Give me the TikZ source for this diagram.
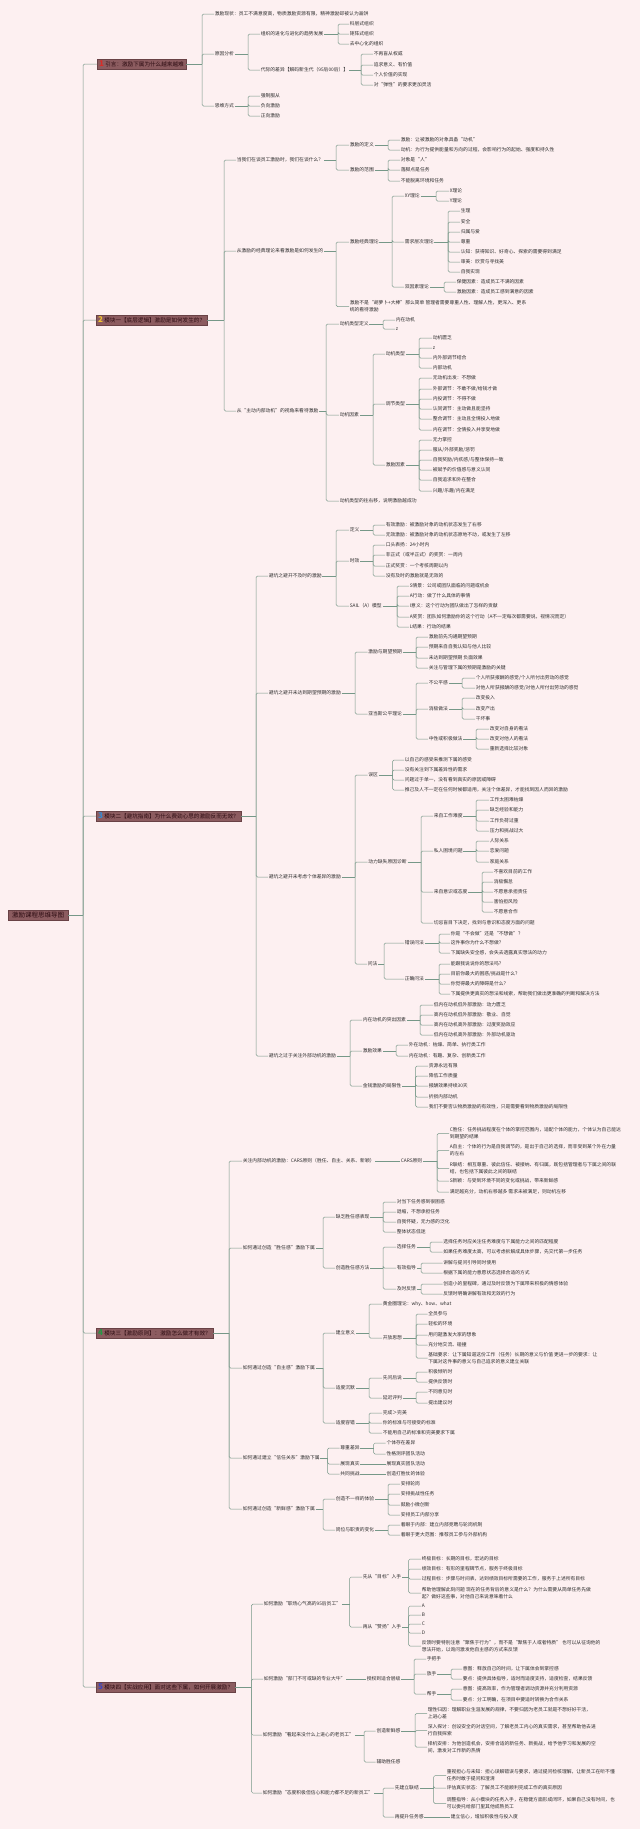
\documentclass[tikz,border=0pt]{standalone}
\usepackage{fontspec}
\setmainfont{Noto Sans CJK SC}
\usepackage{tikz}
\definecolor{bgc}{RGB}{253,240,241}
\definecolor{linec}{RGB}{118,152,136}
\definecolor{boxc}{RGB}{140,92,96}
\definecolor{boxd}{RGB}{105,66,70}
\definecolor{boxt}{RGB}{45,12,18}
\definecolor{textc}{RGB}{45,45,45}
\definecolor{numa}{RGB}{215,45,40}
\definecolor{numb}{RGB}{240,195,50}
\definecolor{numc}{RGB}{50,140,215}
\definecolor{numd}{RGB}{40,150,70}
\definecolor{nume}{RGB}{60,70,190}

\begin{document}
\begin{tikzpicture}[x = 1pt, y = -1pt,
  box/.style = {anchor = west, fill = boxc, draw = boxd, line width = .4pt, inner xsep = 2pt, inner ysep = 1.8pt, text = boxt, font = \fontsize{5.6}{6.5}\selectfont},
  leaf/.style = {anchor = west, inner sep = .6pt, text = textc, align = left, font = \fontsize{4.8}{6.8}\selectfont},
  link/.style = {draw = linec, line width = .5pt, rounded corners = 1.5pt}]
  \fill[bgc] (0, 0) rectangle (640, 1829);
  \useasboundingbox (0, 0) rectangle (640, 1829);

  % root
  \node[box, inner xsep = 4pt, inner ysep = 2.2pt, font = \fontsize{6.5}{7.5}\selectfont] at (8, 915) (0) {激励课程思维导图};
  \coordinate (0b) at (83, 915);
  \node[box] at (97, 64) (1) {{\color{numa}\fontsize{8}{8}\selectfont\bfseries 1} 引言：激励下属为什么越来越难};
  \node[box] at (96, 320) (2) {{\color{numb}\fontsize{8}{8}\selectfont\bfseries 2} 模块一【底层逻辑】激励是如何发生的？};
  \node[box] at (96, 816) (3) {{\color{numc}\fontsize{8}{8}\selectfont\bfseries 3} 模块二【避坑指南】为什么费劲心思的激励反而无效？};
  \node[box] at (96, 1333) (4) {{\color{numd}\fontsize{8}{8}\selectfont\bfseries 4} 模块三【激励原则】：激励怎么做才有效？};
  \node[box] at (96, 1687) (5) {{\color{nume}\fontsize{8}{8}\selectfont\bfseries 5} 模块四【实战应用】面对这些下属，如何开展激励？};
  \draw[link] (0.east) -- (0b);
  \foreach \c in {1, ..., 5}
  {
  \draw[link] (0b) |- (\c.west);
  }

  % 1
  \node[leaf] at (214, 14) (11) {激励现状：员工不满意度高，物质激励资源有限，精神激励却被认为画饼};
  \node[leaf] at (214, 54) (12) {原因分析};
  \node[leaf] at (260, 34) (121) {组织的进化与进化的趋势发展};
  \node[leaf] at (349, 24) (1211) {科层式组织};
  \node[leaf] at (349, 34) (1212) {矩阵式组织};
  \node[leaf] at (349, 44) (1213) {去中心化的组织};
  \node[leaf] at (260, 70) (122) {代际的差异【解码新生代（95后00后）】};
  \node[leaf] at (373, 54) (1221) {不再盲从权威};
  \node[leaf] at (373, 65) (1222) {追求意义、有价值};
  \node[leaf] at (373, 75) (1223) {个人价值的实现};
  \node[leaf] at (373, 85) (1224) {对“弹性”的要求更加灵活};
  \node[leaf] at (214, 106) (13) {思维方式};
  \node[leaf] at (260, 96) (131) {强制服从};
  \node[leaf] at (260, 106) (132) {负向激励};
  \node[leaf] at (260, 116) (133) {正向激励};
  \coordinate (1b) at (202, 64);
  \coordinate (12b) at (248, 54);
  \coordinate (121b) at (338, 34);
  \coordinate (122b) at (361, 70);
  \coordinate (13b) at (248, 106);
  \draw[link] (1.east) -- (1b);
  \foreach \c in {11, 12, 13} \draw[link] (1b) |- (\c.west);
  \draw[link] (12.east) -- (12b);
  \foreach \c in {121, 122} \draw[link] (12b) |- (\c.west);
  \draw[link] (121.east) -- (121b);
  \foreach \c in {1211, 1212, 1213} \draw[link] (121b) |- (\c.west);
  \draw[link] (122.east) -- (122b);
  \foreach \c in {1221, 1222, 1223, 1224} \draw[link] (122b) |- (\c.west);
  \draw[link] (13.east) -- (13b);
  \foreach \c in {131, 132, 133} \draw[link] (13b) |- (\c.west);

  % 2
  \node[leaf] at (236, 160) (21) {当我们在谈员工激励时，我们在谈什么？};
  \node[leaf] at (349, 145) (211) {激励的定义};
  \node[leaf] at (400, 140) (2111) {激励：让被激励的对象具备“动机”};
  \node[leaf] at (400, 150) (2112) {动机：为行为提供能量和方向的过程，会影响行为的起始、强度和持久性};
  \node[leaf] at (349, 170) (212) {激励的范围};
  \node[leaf] at (400, 160) (2121) {对象是“人”};
  \node[leaf] at (400, 170) (2122) {落脚点是任务};
  \node[leaf] at (400, 181) (2123) {不能脱离环境和任务};
  \node[leaf] at (236, 251) (22) {从激励的经典理论来看激励是如何发生的};
  \node[leaf] at (349, 242) (221) {激励经典理论};
  \node[leaf] at (404, 196) (2211) {XY理论};
  \node[leaf] at (449, 191) (22111) {X理论};
  \node[leaf] at (449, 201) (22112) {Y理论};
  \node[leaf] at (404, 242) (2212) {需求层次理论};
  \node[leaf] at (460, 211) (22121) {生理};
  \node[leaf] at (460, 222) (22122) {安全};
  \node[leaf] at (460, 232) (22123) {归属与爱};
  \node[leaf] at (460, 242) (22124) {尊重};
  \node[leaf] at (460, 252) (22125) {认知：获得知识、好奇心、探索的需要得到满足};
  \node[leaf] at (460, 262) (22126) {审美：欣赏与寻找美};
  \node[leaf] at (460, 272) (22127) {自我实现};
  \node[leaf] at (404, 287) (2213) {双因素理论};
  \node[leaf] at (456, 282) (22131) {保健因素：造成员工不满的因素};
  \node[leaf] at (456, 292) (22132) {激励因素：造成员工感到满意的因素};
  \node[leaf] at (349, 306.5) (222) {激励不是“胡萝卜+大棒”那么简单 管理者需要尊重人性、理解人性，更深入、更系\\统的看待激励};
  \node[leaf] at (236, 411) (23) {从“主动内部动机”的视角来看待激励};
  \node[leaf] at (339, 324) (231) {动机类型定义};
  \node[leaf] at (395, 320) (2311) {内在动机};
  \node[leaf] at (395, 329) (2312) {z};
  \node[leaf] at (339, 415) (232) {动机因素};
  \node[leaf] at (385, 354) (2321) {动机类型};
  \node[leaf] at (432, 338) (23211) {动机匮乏};
  \node[leaf] at (432, 348) (23212) {z};
  \node[leaf] at (432, 358) (23213) {内外部调节结合};
  \node[leaf] at (432, 368) (23214) {内部动机};
  \node[leaf] at (385, 404) (2322) {调节类型};
  \node[leaf] at (432, 378) (23221) {无动机出发：不想做};
  \node[leaf] at (432, 389) (23222) {外部调节：不敢不做/给钱才做};
  \node[leaf] at (432, 399) (23223) {内投调节：不得不做};
  \node[leaf] at (432, 409) (23224) {认同调节：主动做且能坚持};
  \node[leaf] at (432, 419) (23225) {整合调节：主动且全情投入地做};
  \node[leaf] at (432, 430) (23226) {内在调节：全情投入并享受地做};
  \node[leaf] at (385, 465) (2323) {激励因素};
  \node[leaf] at (432, 440) (23231) {无力掌控};
  \node[leaf] at (432, 450) (23232) {服从/外部奖励/惩罚};
  \node[leaf] at (432, 460) (23233) {自我奖励/内疚感/与整体保持一致};
  \node[leaf] at (432, 470) (23234) {被赋予的价值感与意义认同};
  \node[leaf] at (432, 480) (23235) {自我追求和外在整合};
  \node[leaf] at (432, 491) (23236) {兴趣/乐趣/内在满足};
  \node[leaf] at (339, 501) (233) {动机类型的往右移，说明激励越成功};
  \coordinate (2b) at (224, 320);
  \coordinate (21b) at (336, 160);
  \coordinate (211b) at (388, 145);
  \coordinate (212b) at (388, 170);
  \coordinate (22b) at (336, 251);
  \coordinate (221b) at (392, 242);
  \coordinate (2211b) at (436, 196);
  \coordinate (2212b) at (448, 242);
  \coordinate (2213b) at (444, 287);
  \coordinate (23b) at (326, 411);
  \coordinate (231b) at (383, 324);
  \coordinate (232b) at (373, 415);
  \coordinate (2321b) at (419, 354);
  \coordinate (2322b) at (419, 404);
  \coordinate (2323b) at (419, 465);
  \draw[link] (2.east) -- (2b);
  \foreach \c in {21, 22, 23} \draw[link] (2b) |- (\c.west);
  \draw[link] (21.east) -- (21b);
  \foreach \c in {211, 212} \draw[link] (21b) |- (\c.west);
  \draw[link] (211.east) -- (211b);
  \foreach \c in {2111, 2112} \draw[link] (211b) |- (\c.west);
  \draw[link] (212.east) -- (212b);
  \foreach \c in {2121, 2122, 2123} \draw[link] (212b) |- (\c.west);
  \draw[link] (22.east) -- (22b);
  \foreach \c in {221, 222} \draw[link] (22b) |- (\c.west);
  \draw[link] (221.east) -- (221b);
  \foreach \c in {2211, 2212, 2213} \draw[link] (221b) |- (\c.west);
  \draw[link] (2211.east) -- (2211b);
  \foreach \c in {22111, 22112} \draw[link] (2211b) |- (\c.west);
  \draw[link] (2212.east) -- (2212b);
  \foreach \c in {22121, 22122, 22123, 22124, 22125, 22126, 22127} \draw[link] (2212b) |- (\c.west);
  \draw[link] (2213.east) -- (2213b);
  \foreach \c in {22131, 22132} \draw[link] (2213b) |- (\c.west);
  \draw[link] (23.east) -- (23b);
  \foreach \c in {231, 232, 233} \draw[link] (23b) |- (\c.west);
  \draw[link] (231.east) -- (231b);
  \foreach \c in {2311, 2312} \draw[link] (231b) |- (\c.west);
  \draw[link] (232.east) -- (232b);
  \foreach \c in {2321, 2322, 2323} \draw[link] (232b) |- (\c.west);
  \draw[link] (2321.east) -- (2321b);
  \foreach \c in {23211, 23212, 23213, 23214} \draw[link] (2321b) |- (\c.west);
  \draw[link] (2322.east) -- (2322b);
  \foreach \c in {23221, 23222, 23223, 23224, 23225, 23226} \draw[link] (2322b) |- (\c.west);
  \draw[link] (2323.east) -- (2323b);
  \foreach \c in {23231, 23232, 23233, 23234, 23235, 23236} \draw[link] (2323b) |- (\c.west);

  % 3
  \node[leaf] at (268, 576) (31) {避坑之避开不及时的激励};
  \node[leaf] at (349, 530) (311) {定义};
  \node[leaf] at (385, 525) (3111) {有效激励：被激励对象的动机状态发生了右移};
  \node[leaf] at (385, 535) (3112) {无效激励：被激励对象的动机状态原地不动，或发生了左移};
  \node[leaf] at (349, 561) (312) {时效};
  \node[leaf] at (385, 545) (3121) {口头表扬：24小时内};
  \node[leaf] at (385, 555) (3122) {非正式（或半正式）的奖赏：一周内};
  \node[leaf] at (385, 566) (3123) {正式奖赏：一个考核周期以内};
  \node[leaf] at (385, 576) (3124) {没有及时的激励就是无效的};
  \node[leaf] at (349, 606) (313) {SAIL（A）模型};
  \node[leaf] at (409, 586) (3131) {S情景：公司或团队面临的问题或机会};
  \node[leaf] at (409, 596) (3132) {A行动：做了什么具体的事情};
  \node[leaf] at (409, 606) (3133) {I意义：这个行动为团队做出了怎样的贡献};
  \node[leaf] at (409, 617) (3134) {A奖赏：团队如何激励你的这个行动（A不一定每次都需要说，视情况而定）};
  \node[leaf] at (409, 627) (3135) {L结果：行动的结果};
  \node[leaf] at (268, 693) (32) {避坑之避开未达到期望预期的激励};
  \node[leaf] at (367.5, 652) (321) {激励与期望预期};
  \node[leaf] at (428, 637) (3211) {激励前先沟通期望预期};
  \node[leaf] at (428, 647) (3212) {预期来自自我认知与他人比较};
  \node[leaf] at (428, 658) (3213) {未达到期望预期 负面效果};
  \node[leaf] at (428, 668) (3214) {关注与管理下属的预期是激励的关键};
  \node[leaf] at (367.5, 714) (322) {亚当斯公平理论};
  \node[leaf] at (428, 683) (3221) {不公平感};
  \node[leaf] at (475, 678) (32211) {个人所获报酬的感觉/个人所付出劳动的感觉};
  \node[leaf] at (475, 688) (32212) {对他人所获报酬的感觉/对他人所付出劳动的感觉};
  \node[leaf] at (428, 709) (3222) {消极做法};
  \node[leaf] at (475, 698) (32221) {改变投入};
  \node[leaf] at (475, 709) (32222) {改变产出};
  \node[leaf] at (475, 719) (32223) {干坏事};
  \node[leaf] at (428, 739) (3223) {中性或积极做法};
  \node[leaf] at (489, 729) (32231) {改变对自身的看法};
  \node[leaf] at (489, 739) (32232) {改变对他人的看法};
  \node[leaf] at (489, 749) (32233) {重新选择比较对象};
  \node[leaf] at (268, 877) (33) {避坑之避开未考虑个体差异的激励};
  \node[leaf] at (367.5, 775) (331) {误区};
  \node[leaf] at (404, 760) (3311) {以自己的感受来推测下属的感受};
  \node[leaf] at (404, 770) (3312) {没有关注到下属差异性的需求};
  \node[leaf] at (404, 780) (3313) {问题过于单一，没有看到真实的原因或障碍};
  \node[leaf] at (404, 790) (3314) {推己及人不一定在任何时候都适用，关注个体差异，才能找到因人而异的激励};
  \node[leaf] at (367.5, 862) (332) {动力缺失原因诊断};
  \node[leaf] at (433, 816) (3321) {来自工作难度};
  \node[leaf] at (489, 800) (33211) {工作太困难枯燥};
  \node[leaf] at (489, 810) (33212) {缺乏经验和能力};
  \node[leaf] at (489, 821) (33213) {工作负荷过重};
  \node[leaf] at (489, 831) (33214) {压力和挑战过大};
  \node[leaf] at (433, 851) (3322) {私人困境问题};
  \node[leaf] at (489, 841) (33221) {人际关系};
  \node[leaf] at (489, 851) (33222) {恋爱问题};
  \node[leaf] at (489, 862) (33223) {家庭关系};
  \node[leaf] at (433, 892) (3323) {来自意识或态度};
  \node[leaf] at (493, 872) (33231) {不喜欢目前的工作};
  \node[leaf] at (493, 882) (33232) {消极懈怠};
  \node[leaf] at (493, 892) (33233) {不愿意承担责任};
  \node[leaf] at (493, 902) (33234) {害怕担风险};
  \node[leaf] at (493, 912) (33235) {不愿意合作};
  \node[leaf] at (433, 923) (3324) {切忌盲目下决定，找到与意识和态度方面的问题};
  \node[leaf] at (367, 964) (333) {问法};
  \node[leaf] at (404, 943) (3331) {错误问法};
  \node[leaf] at (450, 934) (33311) {你是“不会做”还是“不想做”？};
  \node[leaf] at (450, 943) (33312) {这件事你为什么不想做？};
  \node[leaf] at (450, 953) (33313) {下属缺失安全感，会失去透露真实想法的动力};
  \node[leaf] at (404, 979) (3332) {正确问法};
  \node[leaf] at (450, 964) (33321) {能跟我说说你的想法吗？};
  \node[leaf] at (450, 974) (33322) {目前你最大的困惑/挑战是什么？};
  \node[leaf] at (450, 984) (33323) {你觉得最大的障碍是什么？};
  \node[leaf] at (450, 994) (33324) {下属提供更真实的想法和线索，帮助我们做出更准确的判断和解决方法};
  \node[leaf] at (268, 1056) (34) {避坑之过于关注外部动机的激励};
  \node[leaf] at (362, 1020) (341) {内在动机的突出因素};
  \node[leaf] at (433, 1005) (3411) {低内在动机低外部激励：动力匮乏};
  \node[leaf] at (433, 1015) (3412) {高内在动机低外部激励：敬业、自觉};
  \node[leaf] at (433, 1025) (3413) {高内在动机高外部激励：过度奖励效应};
  \node[leaf] at (433, 1035) (3414) {低内在动机高外部激励：外部动机驱动};
  \node[leaf] at (362, 1051) (342) {激励效果};
  \node[leaf] at (408, 1045) (3421) {外在动机：枯燥、简单、执行类工作};
  \node[leaf] at (408, 1056) (3422) {内在动机：有趣、复杂、创新类工作};
  \node[leaf] at (362, 1086) (343) {金钱激励的局限性};
  \node[leaf] at (428, 1066) (3431) {资源永远有限};
  \node[leaf] at (428, 1076) (3432) {降低工作质量};
  \node[leaf] at (428, 1086) (3433) {报酬效果持续30天};
  \node[leaf] at (428, 1097) (3434) {折损内部动机};
  \node[leaf] at (428, 1107) (3435) {我们不要否认物质激励的有效性，只是需要看到物质激励的局限性};
  \coordinate (3b) at (256, 816);
  \coordinate (31b) at (336, 576);
  \coordinate (311b) at (373, 530);
  \coordinate (312b) at (373, 561);
  \coordinate (313b) at (397, 606);
  \coordinate (32b) at (355, 693);
  \coordinate (321b) at (416, 652);
  \coordinate (322b) at (416, 714);
  \coordinate (3221b) at (462, 683);
  \coordinate (3222b) at (462, 709);
  \coordinate (3223b) at (476, 739);
  \coordinate (33b) at (355, 877);
  \coordinate (331b) at (392.5, 775);
  \coordinate (332b) at (421, 862);
  \coordinate (3321b) at (476, 816);
  \coordinate (3322b) at (476, 851);
  \coordinate (3323b) at (482, 892);
  \coordinate (333b) at (384, 964);
  \coordinate (3331b) at (439, 943);
  \coordinate (3332b) at (439, 979);
  \coordinate (34b) at (350, 1056);
  \coordinate (341b) at (420, 1020);
  \coordinate (342b) at (396, 1051);
  \coordinate (343b) at (415.5, 1086);
  \draw[link] (3.east) -- (3b);
  \foreach \c in {31, 32, 33, 34} \draw[link] (3b) |- (\c.west);
  \draw[link] (31.east) -- (31b);
  \foreach \c in {311, 312, 313} \draw[link] (31b) |- (\c.west);
  \draw[link] (311.east) -- (311b);
  \foreach \c in {3111, 3112} \draw[link] (311b) |- (\c.west);
  \draw[link] (312.east) -- (312b);
  \foreach \c in {3121, 3122, 3123, 3124} \draw[link] (312b) |- (\c.west);
  \draw[link] (313.east) -- (313b);
  \foreach \c in {3131, 3132, 3133, 3134, 3135} \draw[link] (313b) |- (\c.west);
  \draw[link] (32.east) -- (32b);
  \foreach \c in {321, 322} \draw[link] (32b) |- (\c.west);
  \draw[link] (321.east) -- (321b);
  \foreach \c in {3211, 3212, 3213, 3214} \draw[link] (321b) |- (\c.west);
  \draw[link] (322.east) -- (322b);
  \foreach \c in {3221, 3222, 3223} \draw[link] (322b) |- (\c.west);
  \draw[link] (3221.east) -- (3221b);
  \foreach \c in {32211, 32212} \draw[link] (3221b) |- (\c.west);
  \draw[link] (3222.east) -- (3222b);
  \foreach \c in {32221, 32222, 32223} \draw[link] (3222b) |- (\c.west);
  \draw[link] (3223.east) -- (3223b);
  \foreach \c in {32231, 32232, 32233} \draw[link] (3223b) |- (\c.west);
  \draw[link] (33.east) -- (33b);
  \foreach \c in {331, 332, 333} \draw[link] (33b) |- (\c.west);
  \draw[link] (331.east) -- (331b);
  \foreach \c in {3311, 3312, 3313, 3314} \draw[link] (331b) |- (\c.west);
  \draw[link] (332.east) -- (332b);
  \foreach \c in {3321, 3322, 3323, 3324} \draw[link] (332b) |- (\c.west);
  \draw[link] (3321.east) -- (3321b);
  \foreach \c in {33211, 33212, 33213, 33214} \draw[link] (3321b) |- (\c.west);
  \draw[link] (3322.east) -- (3322b);
  \foreach \c in {33221, 33222, 33223} \draw[link] (3322b) |- (\c.west);
  \draw[link] (3323.east) -- (3323b);
  \foreach \c in {33231, 33232, 33233, 33234, 33235} \draw[link] (3323b) |- (\c.west);
  \draw[link] (333.east) -- (333b);
  \foreach \c in {3331, 3332} \draw[link] (333b) |- (\c.west);
  \draw[link] (3331.east) -- (3331b);
  \foreach \c in {33311, 33312, 33313} \draw[link] (3331b) |- (\c.west);
  \draw[link] (3332.east) -- (3332b);
  \foreach \c in {33321, 33322, 33323, 33324} \draw[link] (3332b) |- (\c.west);
  \draw[link] (34.east) -- (34b);
  \foreach \c in {341, 342, 343} \draw[link] (34b) |- (\c.west);
  \draw[link] (341.east) -- (341b);
  \foreach \c in {3411, 3412, 3413, 3414} \draw[link] (341b) |- (\c.west);
  \draw[link] (342.east) -- (342b);
  \foreach \c in {3421, 3422} \draw[link] (342b) |- (\c.west);
  \draw[link] (343.east) -- (343b);
  \foreach \c in {3431, 3432, 3433, 3434, 3435} \draw[link] (343b) |- (\c.west);

  % 4
  \node[leaf] at (242, 1161) (41) {关注内部动机的激励：CARS原则（胜任、自主、关系、新颖）};
  \node[leaf] at (400, 1161) (411) {CARS原则};
  \node[leaf] at (449, 1133.5) (4111) {C胜任：任务挑战程度在个体的掌控范围内，适配个体的能力，个体认为自己能达\\到期望的结果};
  \node[leaf] at (449, 1150.5) (4112) {A自主：个体的行为是自我调节的，是出于自己的选择，而非受到某个外在力量\\的左右};
  \node[leaf] at (449, 1168.5) (4113) {R联结：相互尊重、彼此信任、被接纳、有归属，既包括管理者与下属之间的联\\结，也包括下属彼此之间的联结};
  \node[leaf] at (449, 1181) (4114) {S新颖：与受到环境不同的变化或挑战，带来新鲜感};
  \node[leaf] at (449, 1192) (4115) {满足越充分，动机右移越多 需求未被满足，则动机左移};
  \node[leaf] at (242, 1248) (42) {如何通过创造“胜任感”激励下属};
  \node[leaf] at (335, 1217) (421) {缺乏胜任感表现};
  \node[leaf] at (396, 1202) (4211) {对当下任务感到很困惑};
  \node[leaf] at (396, 1212) (4212) {退缩，不想承担任务};
  \node[leaf] at (396, 1222) (4213) {自我怀疑，无力感的泛化};
  \node[leaf] at (396, 1232) (4214) {整体状态低迷};
  \node[leaf] at (335, 1268) (422) {创造胜任感方法};
  \node[leaf] at (396, 1247) (4221) {选择任务};
  \node[leaf] at (442.5, 1242) (42211) {选择任务时应关注任务难度与下属能力之间的匹配程度};
  \node[leaf] at (442.5, 1252) (42212) {如果任务难度太高，可以考虑拆解成具体步骤，先交代第一步任务};
  \node[leaf] at (396, 1268) (4222) {有效指导};
  \node[leaf] at (442.5, 1263) (42221) {讲解与提问引导同时使用};
  \node[leaf] at (442.5, 1273) (42222) {根据下属的能力意愿状态选择合适的方式};
  \node[leaf] at (396, 1289) (4223) {及时反馈};
  \node[leaf] at (442.5, 1284) (42231) {创造小的里程碑，通过及时反馈为下属带来积极的情感体验};
  \node[leaf] at (442.5, 1294) (42232) {反馈时明确讲解有效和无效的行为};
  \node[leaf] at (242, 1368) (43) {如何通过创造“自主感”激励下属};
  \node[leaf] at (335, 1333) (431) {建立意义};
  \node[leaf] at (382, 1304) (4311) {黄金圈理论：why、how、what};
  \node[leaf] at (382, 1338) (4312) {开放思想};
  \node[leaf] at (427.5, 1314) (43121) {全员参与};
  \node[leaf] at (427.5, 1324) (43122) {轻松的环境};
  \node[leaf] at (427.5, 1335) (43123) {用问题激发大家的想象};
  \node[leaf] at (427.5, 1345) (43124) {充分地交流、碰撞};
  \node[leaf] at (427.5, 1358) (43125) {基础要求：让下属知道这份工作（任务）长期的意义与价值 更进一步的要求：让\\下属对这件事的意义与自己追求的意义建立关联};
  \node[leaf] at (335, 1388) (432) {适度沉默};
  \node[leaf] at (382, 1378) (4321) {先问后说};
  \node[leaf] at (427.5, 1372) (43211) {积极倾听时};
  \node[leaf] at (427.5, 1382) (43212) {提供反馈时};
  \node[leaf] at (382, 1398) (4322) {延迟评判};
  \node[leaf] at (427.5, 1392) (43221) {不同意见时};
  \node[leaf] at (427.5, 1403) (43222) {提出建议时};
  \node[leaf] at (335, 1423) (433) {适度容错};
  \node[leaf] at (382, 1413) (4331) {完成＞完美};
  \node[leaf] at (382, 1423) (4332) {你的标准与可接受的标准};
  \node[leaf] at (382, 1433) (4333) {不能用自己的标准和完美要求下属};
  \node[leaf] at (242, 1458) (44) {如何通过建立“信任关系”激励下属};
  \node[leaf] at (339.6, 1448) (441) {尊重差异};
  \node[leaf] at (385.7, 1443) (4411) {个体存在差异};
  \node[leaf] at (385.7, 1454) (4412) {性格测评团队活动};
  \node[leaf] at (339.6, 1464) (442) {展现真实};
  \node[leaf] at (385.7, 1464) (4421) {展现真实团队活动};
  \node[leaf] at (339.6, 1474) (443) {共同挑战};
  \node[leaf] at (385.7, 1474) (4431) {创造打胜仗的体验};
  \node[leaf] at (242, 1509) (45) {如何通过创造“新鲜感”激励下属};
  \node[leaf] at (335, 1499) (451) {创造不一样的体验};
  \node[leaf] at (400, 1484) (4511) {安排轮岗};
  \node[leaf] at (400, 1494) (4512) {安排挑战性任务};
  \node[leaf] at (400, 1505) (4513) {鼓励小微创新};
  \node[leaf] at (400, 1515) (4514) {安排员工内部分享};
  \node[leaf] at (335, 1530) (452) {岗位与职责的变化};
  \node[leaf] at (400, 1525) (4521) {着眼于内部：建立内部竞聘与轮岗机制};
  \node[leaf] at (400, 1535) (4522) {着眼于更大范围：推荐员工参与外部机构};
  \coordinate (4b) at (229, 1333);
  \coordinate (411b) at (437, 1161);
  \coordinate (42b) at (323, 1248);
  \coordinate (421b) at (383, 1217);
  \coordinate (422b) at (383, 1268);
  \coordinate (4221b) at (430, 1247);
  \coordinate (4222b) at (421, 1268);
  \coordinate (4223b) at (421, 1289);
  \coordinate (43b) at (323, 1368);
  \coordinate (431b) at (369, 1333);
  \coordinate (4312b) at (416, 1338);
  \coordinate (432b) at (369, 1388);
  \coordinate (4321b) at (416, 1378);
  \coordinate (4322b) at (416, 1398);
  \coordinate (433b) at (369, 1423);
  \coordinate (44b) at (327.5, 1458);
  \coordinate (441b) at (373.6, 1448);
  \coordinate (45b) at (323, 1509);
  \coordinate (451b) at (388, 1499);
  \coordinate (452b) at (388, 1530);
  \draw[link] (4.east) -- (4b);
  \foreach \c in {41, 42, 43, 44, 45} \draw[link] (4b) |- (\c.west);
  \draw[link] (41.east) -- (411.west);
  \draw[link] (411.east) -- (411b);
  \foreach \c in {4111, 4112, 4113, 4114, 4115} \draw[link] (411b) |- (\c.west);
  \draw[link] (42.east) -- (42b);
  \foreach \c in {421, 422} \draw[link] (42b) |- (\c.west);
  \draw[link] (421.east) -- (421b);
  \foreach \c in {4211, 4212, 4213, 4214} \draw[link] (421b) |- (\c.west);
  \draw[link] (422.east) -- (422b);
  \foreach \c in {4221, 4222, 4223} \draw[link] (422b) |- (\c.west);
  \draw[link] (4221.east) -- (4221b);
  \foreach \c in {42211, 42212} \draw[link] (4221b) |- (\c.west);
  \draw[link] (4222.east) -- (4222b);
  \foreach \c in {42221, 42222} \draw[link] (4222b) |- (\c.west);
  \draw[link] (4223.east) -- (4223b);
  \foreach \c in {42231, 42232} \draw[link] (4223b) |- (\c.west);
  \draw[link] (43.east) -- (43b);
  \foreach \c in {431, 432, 433} \draw[link] (43b) |- (\c.west);
  \draw[link] (431.east) -- (431b);
  \foreach \c in {4311, 4312} \draw[link] (431b) |- (\c.west);
  \draw[link] (4312.east) -- (4312b);
  \foreach \c in {43121, 43122, 43123, 43124, 43125} \draw[link] (4312b) |- (\c.west);
  \draw[link] (432.east) -- (432b);
  \foreach \c in {4321, 4322} \draw[link] (432b) |- (\c.west);
  \draw[link] (4321.east) -- (4321b);
  \foreach \c in {43211, 43212} \draw[link] (4321b) |- (\c.west);
  \draw[link] (4322.east) -- (4322b);
  \foreach \c in {43221, 43222} \draw[link] (4322b) |- (\c.west);
  \draw[link] (433.east) -- (433b);
  \foreach \c in {4331, 4332, 4333} \draw[link] (433b) |- (\c.west);
  \draw[link] (44.east) -- (44b);
  \foreach \c in {441, 442, 443} \draw[link] (44b) |- (\c.west);
  \draw[link] (441.east) -- (441b);
  \foreach \c in {4411, 4412} \draw[link] (441b) |- (\c.west);
  \draw[link] (442.east) -- (4421.west);
  \draw[link] (443.east) -- (4431.west);
  \draw[link] (45.east) -- (45b);
  \foreach \c in {451, 452} \draw[link] (45b) |- (\c.west);
  \draw[link] (451.east) -- (451b);
  \foreach \c in {4511, 4512, 4513, 4514} \draw[link] (451b) |- (\c.west);
  \draw[link] (452.east) -- (452b);
  \foreach \c in {4521, 4522} \draw[link] (452b) |- (\c.west);

  % 5
  \node[leaf] at (263, 1604) (51) {如何激励“职场心气高的95后员工”};
  \node[leaf] at (362, 1577) (511) {先从“目标”入手};
  \node[leaf] at (421, 1559) (5111) {终极目标：长期的目标，宏达的目标};
  \node[leaf] at (421, 1569) (5112) {绩效目标：有形的里程碑节点，服务于终极目标};
  \node[leaf] at (421, 1579) (5113) {过程目标：步骤与时间表，达到绩效目标所需要的工作，服务于上述所有目标};
  \node[leaf] at (421, 1593) (5114) {帮助他理解此刻问题 现在的任务背后的意义是什么？为什么需要从简单任务先做\\起？做好这些事，对他自己来说意味着什么};
  \node[leaf] at (362, 1627) (512) {再从“赞扬”入手};
  \node[leaf] at (421, 1606) (5121) {A};
  \node[leaf] at (421, 1615) (5122) {B};
  \node[leaf] at (421, 1624) (5123) {C};
  \node[leaf] at (421, 1633) (5124) {D};
  \node[leaf] at (421, 1646) (5125) {反馈时要特别注意“聚焦于行为”，而不是“聚焦于人或者特质” 也可以从征询他的\\想法开始，以询问激发他自主感的方式来反馈};
  \node[leaf] at (263, 1679) (52) {如何激励“部门不可或缺的专业大牛”};
  \node[leaf] at (366, 1679) (521) {授权到适合层级};
  \node[leaf] at (426, 1659) (5211) {手把手};
  \node[leaf] at (426, 1674) (5212) {放手};
  \node[leaf] at (462, 1669) (52121) {意图：释放自己的时间，让下属体会到掌控感};
  \node[leaf] at (462, 1679) (52122) {要点：提供具体指导，适时而适度支持，适度检查，结果反馈};
  \node[leaf] at (426, 1694) (5213) {帮手};
  \node[leaf] at (462, 1689) (52131) {意图：提高效率，作为管理者调动资源并充分利用资源};
  \node[leaf] at (462, 1700) (52132) {要点：分工明确，在项目中要适时转换为合作关系};
  \node[leaf] at (262, 1735) (53) {如何激励“看起来没什么上进心的老员工”};
  \node[leaf] at (375.7, 1731) (531) {创造新鲜感};
  \node[leaf] at (427, 1713.5) (5311) {理性归因：理解职业生涯发展的规律，不要归因为老员工就是不想好好干活，\\上进心差};
  \node[leaf] at (427, 1730.5) (5312) {深入探讨：创设安全的对话空间，了解老员工内心的真实需求，甚至帮助他去进\\行自我探索};
  \node[leaf] at (427, 1747) (5313) {择机安排：为他创造机会，安排合适的新任务、新挑战，给予他学习和发展的空\\间，激发对工作新的热情};
  \node[leaf] at (375.7, 1762) (532) {辅助胜任感};
  \node[leaf] at (262, 1793) (54) {如何激励“态度积极但信心和能力都不足的新员工”};
  \node[leaf] at (394, 1788) (541) {先建立联结};
  \node[leaf] at (446, 1775.5) (5411) {重视担心与未知：担心误解错误与要求，通过提问检核理解，让新员工在听不懂\\任务时敢于提问和澄清};
  \node[leaf] at (446, 1788) (5412) {评估真实状态：了解员工不能顺利完成工作的真实原因};
  \node[leaf] at (446, 1803.5) (5413) {调整指导：从小模块的任务入手，在稳健方面形成闭环，如果自己没有时间，也\\可以委托给部门里其他成熟员工};
  \node[leaf] at (394, 1817) (542) {再提升任务感};
  \node[leaf] at (450, 1817) (5421) {建立信心，增加积极性与投入度};
  \coordinate (5b) at (251.4, 1687);
  \coordinate (51b) at (349.6, 1604);
  \coordinate (511b) at (408.6, 1577);
  \coordinate (512b) at (408.6, 1627);
  \coordinate (521b) at (414, 1679);
  \coordinate (5212b) at (451, 1674);
  \coordinate (5213b) at (451, 1694);
  \coordinate (53b) at (364, 1735);
  \coordinate (531b) at (415, 1731);
  \coordinate (54b) at (383, 1793);
  \coordinate (541b) at (433.6, 1788);
  \draw[link] (5.east) -- (5b);
  \foreach \c in {51, 52, 53, 54} \draw[link] (5b) |- (\c.west);
  \draw[link] (51.east) -- (51b);
  \foreach \c in {511, 512} \draw[link] (51b) |- (\c.west);
  \draw[link] (511.east) -- (511b);
  \foreach \c in {5111, 5112, 5113, 5114} \draw[link] (511b) |- (\c.west);
  \draw[link] (512.east) -- (512b);
  \foreach \c in {5121, 5122, 5123, 5124, 5125} \draw[link] (512b) |- (\c.west);
  \draw[link] (52.east) -- (521.west);
  \draw[link] (521.east) -- (521b);
  \foreach \c in {5211, 5212, 5213} \draw[link] (521b) |- (\c.west);
  \draw[link] (5212.east) -- (5212b);
  \foreach \c in {52121, 52122} \draw[link] (5212b) |- (\c.west);
  \draw[link] (5213.east) -- (5213b);
  \foreach \c in {52131, 52132} \draw[link] (5213b) |- (\c.west);
  \draw[link] (53.east) -- (53b);
  \foreach \c in {531, 532} \draw[link] (53b) |- (\c.west);
  \draw[link] (531.east) -- (531b);
  \foreach \c in {5311, 5312, 5313} \draw[link] (531b) |- (\c.west);
  \draw[link] (54.east) -- (54b);
  \foreach \c in {541, 542} \draw[link] (54b) |- (\c.west);
  \draw[link] (541.east) -- (541b);
  \foreach \c in {5411, 5412, 5413} \draw[link] (541b) |- (\c.west);
  \draw[link] (542.east) -- (5421.west);
\end{tikzpicture}
\end{document}
